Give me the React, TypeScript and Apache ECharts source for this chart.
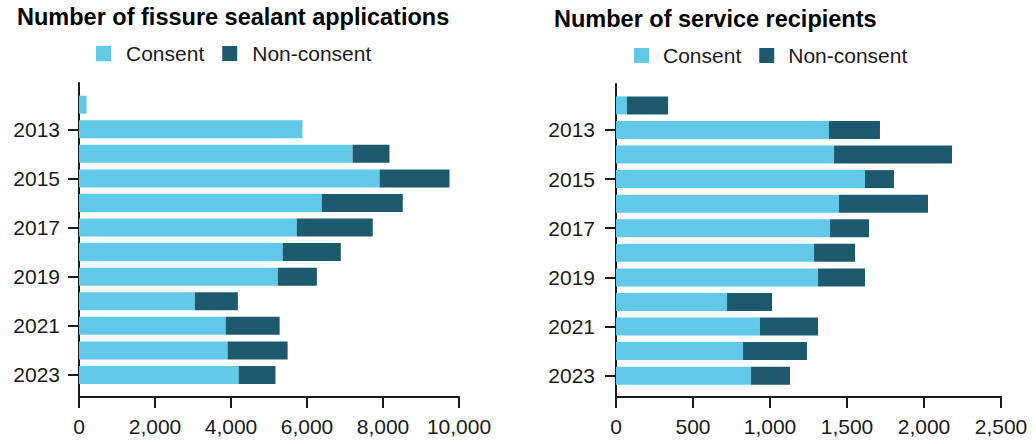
import React, { useEffect, useRef } from "react";
import * as echarts from "echarts";

const years = ["2012", "2013", "2014", "2015", "2016", "2017", "2018", "2019", "2020", "2021", "2022", "2023"];
const sealantConsent = [200, 5880, 7200, 7910, 6390, 5730, 5360, 5230, 3050, 3860, 3910, 4200];
const sealantNonConsent = [0, 0, 970, 1840, 2130, 2000, 1530, 1030, 1130, 1420, 1580, 970];
const recipientsConsent = [71, 1383, 1416, 1617, 1448, 1390, 1286, 1312, 721, 935, 825, 877];
const recipientsNonConsent = [267, 331, 766, 188, 578, 253, 266, 305, 292, 377, 415, 253];
const titles = ["Number of fissure sealant applications", "Number of service recipients"];
const seriesNames = ["Consent", "Non-consent"];

const FONT = "'Liberation Sans', Arial, sans-serif";
const LIGHT = "#62C8E7";
const DARK = "#1E5A6E";
const INK = "#1a1a1a";

const fmt = (v: number) => v.toLocaleString("en-US");

export default function App() {
  const ref = useRef<HTMLDivElement>(null);
  useEffect(() => {
    if (!ref.current) return;
    const chart = echarts.init(ref.current, null, { renderer: "svg" });
    const band = 24.57;
    const barH = band * 12;
    const axisLineStyle = { color: INK, width: 2 };
    const labelStyle = { color: INK, fontSize: 21, fontFamily: FONT };
    const titleStyle = { fontFamily: FONT, fontSize: 23.5, fontWeight: "bold", color: "#000" };
    const oddOnly = (i: number) => i % 2 === 1;
    chart.setOption({
      animation: false,
      title: [
        { text: titles[0], left: 12, top: 0, textStyle: titleStyle },
        { text: titles[1], left: 549, top: 2, textStyle: titleStyle },
      ],
      legend: [
        {
          data: seriesNames, left: 91, top: 38, itemWidth: 15, itemHeight: 15, itemGap: 18,
          icon: "rect", textStyle: { ...labelStyle, padding: [0, 0, 0, 10] },
        },
        {
          data: seriesNames, left: 629, top: 40, itemWidth: 15, itemHeight: 15, itemGap: 18,
          icon: "rect", textStyle: { ...labelStyle, padding: [0, 0, 0, 9] },
        },
      ],
      grid: [
        { left: 79, width: 380, top: 92.4, height: barH },
        { left: 79, width: 380, top: 83, height: 314 },
        { left: 616, width: 385, top: 93.1, height: barH },
        { left: 616, width: 385, top: 84, height: 313 },
      ],
      xAxis: [
        { gridIndex: 0, type: "value", min: 0, max: 10000, show: false },
        {
          gridIndex: 1, type: "value", min: 0, max: 10000, interval: 2000,
          axisLine: { show: true, lineStyle: axisLineStyle },
          axisTick: { show: true, length: 11, lineStyle: axisLineStyle },
          axisLabel: { ...labelStyle, margin: 19, formatter: fmt },
          splitLine: { show: false },
        },
        { gridIndex: 2, type: "value", min: 0, max: 2500, show: false },
        {
          gridIndex: 3, type: "value", min: 0, max: 2500, interval: 500,
          axisLine: { show: true, lineStyle: axisLineStyle },
          axisTick: { show: true, length: 11, lineStyle: axisLineStyle },
          axisLabel: { ...labelStyle, margin: 19, formatter: fmt },
          splitLine: { show: false },
        },
      ],
      yAxis: [
        {
          gridIndex: 0, type: "category", data: years, inverse: true,
          axisLine: { show: false },
          axisTick: { show: true, length: 11, alignWithLabel: true, interval: oddOnly, lineStyle: axisLineStyle },
          axisLabel: { ...labelStyle, margin: 19, interval: oddOnly },
        },
        {
          gridIndex: 1, type: "value", min: 0, max: 1,
          axisLine: { show: true, lineStyle: axisLineStyle },
          axisTick: { show: false }, axisLabel: { show: false }, splitLine: { show: false },
        },
        {
          gridIndex: 2, type: "category", data: years, inverse: true,
          axisLine: { show: false },
          axisTick: { show: true, length: 11, alignWithLabel: true, interval: oddOnly, lineStyle: axisLineStyle },
          axisLabel: { ...labelStyle, margin: 21, interval: oddOnly },
        },
        {
          gridIndex: 3, type: "value", min: 0, max: 1,
          axisLine: { show: true, lineStyle: axisLineStyle },
          axisTick: { show: false }, axisLabel: { show: false }, splitLine: { show: false },
        },
      ],
      series: [
        { name: seriesNames[0], type: "bar", stack: "a", xAxisIndex: 0, yAxisIndex: 0, barWidth: 18, data: sealantConsent, itemStyle: { color: LIGHT } },
        { name: seriesNames[1], type: "bar", stack: "a", xAxisIndex: 0, yAxisIndex: 0, barWidth: 18, data: sealantNonConsent, itemStyle: { color: DARK } },
        { name: seriesNames[0], type: "bar", stack: "b", xAxisIndex: 2, yAxisIndex: 2, barWidth: 18, data: recipientsConsent, itemStyle: { color: LIGHT } },
        { name: seriesNames[1], type: "bar", stack: "b", xAxisIndex: 2, yAxisIndex: 2, barWidth: 18, data: recipientsNonConsent, itemStyle: { color: DARK } },
      ],
    });
    return () => chart.dispose();
  }, []);
  return (
    <div
      ref={ref}
      style={{ position: "fixed", left: 0, top: 0, width: 1036, height: 444, background: "#fff" }}
    />
  );
}
